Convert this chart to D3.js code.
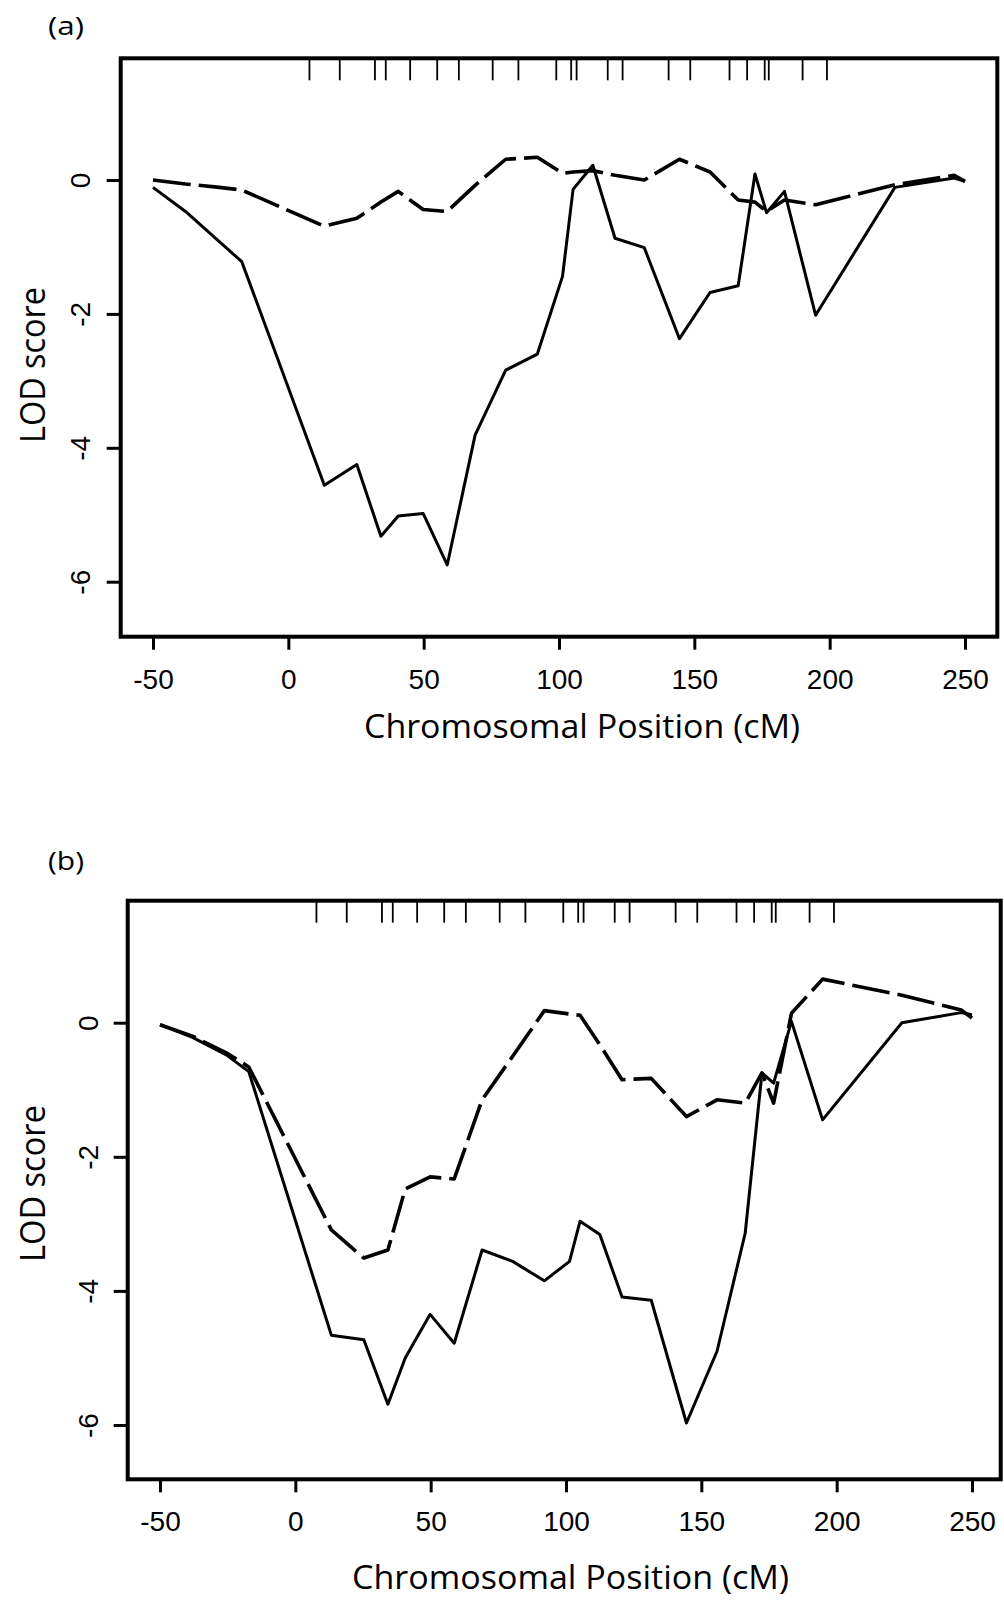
<!DOCTYPE html>
<html>
<head>
<meta charset="utf-8">
<script src="https://cdn.jsdelivr.net/npm/d3@7"></script>
<style>
  body { margin: 0; background: #fff; }
  svg { display: block; }
  .tick text { font-family: "Liberation Sans", Arial, sans-serif; font-size: 28px; fill: #000; }
  .title { font-family: "Open Sans", "Noto Sans", sans-serif; fill: #000; }
</style>
</head>
<body>
<svg id="chart" width="1004" height="1600"></svg>
<script>
// Positions (cM) where the LOD score was evaluated
const positions = [-50, -38, -25.5, -17.2, 13.3, 25.3, 34.2, 40.6, 49.8, 58.7, 69, 80.3, 92,
    101.3, 105.2, 112.5, 120.7, 131.5, 144.5, 155.8, 166.2, 172.4, 176.7, 183.3, 194.8, 224.1, 246, 250];

// Marker positions (rug along the top)
const markers = [7.8, 19, 32, 36, 45, 55, 63, 75.5, 85, 99, 104.5, 106.5, 118, 123.5,
    140.5, 148.5, 163, 169.5, 176, 177.5, 190, 199];

// Panel (a)
const aSolid = [-0.11, -0.47, -0.92, -1.22, -4.56, -4.25, -5.32, -5.02, -4.98, -5.75, -3.81, -2.84, -2.60,
    -1.44, -0.14, 0.22, -0.87, -1.01, -2.37, -1.68, -1.58, 0.09, -0.49, -0.17, -2.02, -0.11, 0.03, -0.02];
const aDashed = [0.0, -0.06, -0.11, -0.15, -0.69, -0.57, -0.33, -0.17, -0.44, -0.47, -0.08, 0.31, 0.34,
    0.10, 0.12, 0.14, 0.07, 0.0, 0.31, 0.12, -0.30, -0.33, -0.47, -0.30, -0.37, -0.07, 0.07, -0.02];

// Panel (b)
const bSolid = [-0.03, -0.22, -0.48, -0.73, -4.66, -4.73, -5.69, -5.00, -4.35, -4.78, -3.39, -3.56, -3.85,
    -3.56, -2.96, -3.16, -4.09, -4.14, -5.97, -4.90, -3.14, -0.75, -0.90, 0.02, -1.45, 0.0, 0.15, 0.12];
const bDashed = [-0.03, -0.20, -0.45, -0.66, -3.09, -3.51, -3.39, -2.48, -2.30, -2.33, -1.15, -0.50, 0.18,
    0.13, 0.11, -0.33, -0.85, -0.83, -1.40, -1.15, -1.20, -0.75, -1.20, 0.14, 0.65, 0.41, 0.19, 0.07];

const xTicks = [-50, 0, 50, 100, 150, 200, 250];
const yTicks = [0, -2, -4, -6];

const svg = d3.select("#chart");

// pixel layout of each panel
const panels = [
    { tag: "(a)", solid: aSolid, dashed: aDashed,
      left: 120.7, top: 58.3, right: 997.3, bottom: 636.7,
      xr: [153, 965], yr: [180, 581.7],
      yLab: 90, xLab: 689, tagY: 35,
      xTitle: { x: 364, y: 738, len: 436 }, yTitle: { x: 45, y: 365, len: 156 } },
    { tag: "(b)", solid: bSolid, dashed: bDashed,
      left: 127.7, top: 900.7, right: 1000.7, bottom: 1479.3,
      xr: [160, 972], yr: [1022.7, 1425],
      yLab: 98, xLab: 1531, tagY: 870,
      xTitle: { x: 352, y: 1589, len: 437 }, yTitle: { x: 45, y: 1183.5, len: 157 } }
];

function drawPanel(p) {
    const x = d3.scaleLinear().domain([-50, 250]).range(p.xr);
    const y = d3.scaleLinear().domain([0, -6]).range(p.yr);
    const g = svg.append("g");

    // box
    g.append("rect")
        .attr("x", p.left).attr("y", p.top)
        .attr("width", p.right - p.left).attr("height", p.bottom - p.top)
        .attr("fill", "none").attr("stroke", "#000").attr("stroke-width", 4);

    // x axis
    const xa = g.append("g")
        .attr("transform", `translate(0,${p.bottom})`)
        .call(d3.axisBottom(x).tickValues(xTicks).tickSize(13).tickFormat(d => String(d)));
    xa.select(".domain").remove();
    xa.selectAll("line").attr("stroke-width", 3);
    xa.selectAll("text").attr("y", p.xLab - p.bottom).attr("dy", 0);

    // y axis, labels turned like R's default
    const ya = g.append("g")
        .attr("transform", `translate(${p.left},0)`)
        .call(d3.axisLeft(y).tickValues(yTicks).tickSize(14).tickFormat(d => String(d)));
    ya.select(".domain").remove();
    ya.selectAll("line").attr("stroke-width", 3);
    ya.selectAll("text")
        .attr("x", 0).attr("y", 0).attr("dy", 0)
        .attr("text-anchor", "middle")
        .attr("transform", `translate(${p.yLab - p.left},0) rotate(-90)`);

    // marker rug
    g.selectAll(".rug")
        .data(markers)
        .enter().append("line")
        .attr("x1", d => x(d)).attr("x2", d => x(d))
        .attr("y1", p.top).attr("y2", p.top + 22)
        .attr("stroke", "#000").attr("stroke-width", 1.8);

    const line = d3.line()
        .x((d, i) => x(positions[i]))
        .y(d => y(d));

    g.append("path")
        .attr("d", line(p.dashed))
        .attr("fill", "none").attr("stroke", "#000")
        .attr("stroke-width", 3.6).attr("stroke-dasharray", "38,8")
        .attr("stroke-linejoin", "round");

    g.append("path")
        .attr("d", line(p.solid))
        .attr("fill", "none").attr("stroke", "#000")
        .attr("stroke-width", 3).attr("stroke-linejoin", "round");

    // labels
    g.append("text").attr("class", "title")
        .attr("x", 48).attr("y", p.tagY)
        .attr("textLength", 36).attr("lengthAdjust", "spacingAndGlyphs")
        .style("font-size", "25px")
        .text(p.tag);

    g.append("text").attr("class", "title")
        .attr("x", p.xTitle.x).attr("y", p.xTitle.y)
        .attr("textLength", p.xTitle.len).attr("lengthAdjust", "spacingAndGlyphs")
        .style("font-size", "33px")
        .text("Chromosomal Position (cM)");

    g.append("text").attr("class", "title")
        .attr("text-anchor", "middle")
        .attr("transform", `translate(${p.yTitle.x},${p.yTitle.y}) rotate(-90)`)
        .attr("textLength", p.yTitle.len).attr("lengthAdjust", "spacingAndGlyphs")
        .style("font-size", "35px")
        .text("LOD score");
}

panels.forEach(drawPanel);
</script>
</body>
</html>
